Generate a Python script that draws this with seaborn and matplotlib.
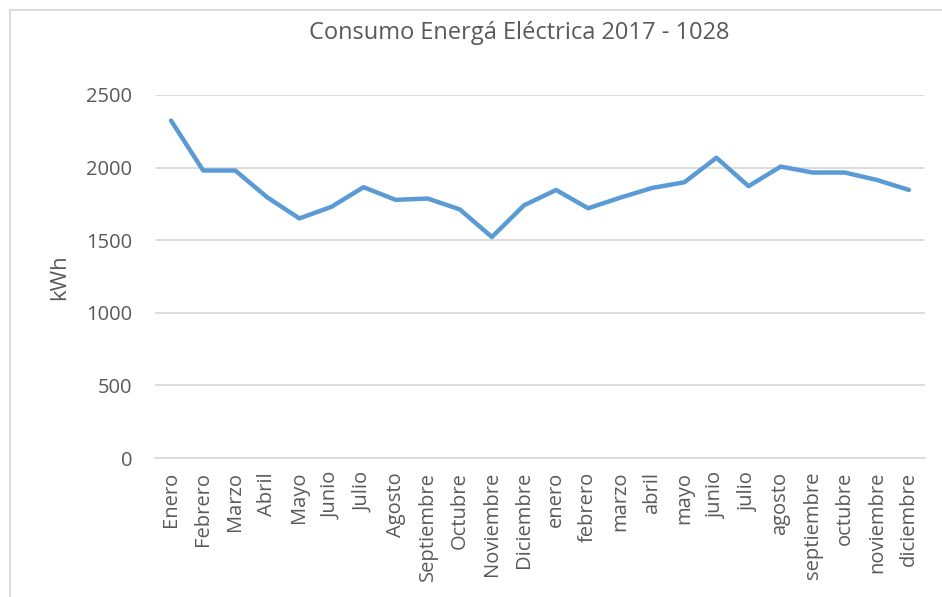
import matplotlib
matplotlib.use("Agg")
import matplotlib.pyplot as plt
import seaborn as sns
import pandas as pd
from matplotlib.lines import Line2D

sns.set_theme(style="white")
plt.rcParams["font.family"] = ["Open Sans", "DejaVu Sans"]

# monthly consumption, 2017 then 2018
months = ["Enero", "Febrero", "Marzo", "Abril", "Mayo", "Junio", "Julio",
          "Agosto", "Septiembre", "Octubre", "Noviembre", "Diciembre",
          "enero", "febrero", "marzo", "abril", "mayo", "junio", "julio",
          "agosto", "septiembre", "octubre", "noviembre", "diciembre"]
kwh = [2324, 1980, 1980, 1795, 1650, 1730, 1865, 1778, 1787, 1712, 1522, 1740,
       1846, 1720, 1793, 1860, 1899, 2068, 1872, 2007, 1966, 1966, 1915, 1846]
yticks = [0, 500, 1000, 1500, 2000, 2500]

df = pd.DataFrame({"Mes": months, "kWh": kwh})

fig = plt.figure(figsize=(9.42, 5.97), dpi=100)
ax = fig.add_axes([155 / 942, 1 - 458 / 597, 770 / 942, 363 / 597])

sns.lineplot(data=df, x="Mes", y="kWh", sort=False, color="#5B9BD5",
             linewidth=3.2, ax=ax, solid_capstyle="round", solid_joinstyle="round")

ax.set_xlim(-0.5, len(months) - 0.5)
ax.set_ylim(0, 2500)
ax.set_yticks(yticks)
ax.yaxis.grid(True, color="#D9D9D9", linewidth=1.3)
ax.set_axisbelow(True)
for s in ["top", "right", "left"]:
    ax.spines[s].set_visible(False)
ax.spines["bottom"].set_color("#D9D9D9")
ax.spines["bottom"].set_linewidth(1.3)

ax.tick_params(axis="both", length=0, labelsize=14.5, labelcolor="#595959")
ax.tick_params(axis="y", pad=16.5)
ax.tick_params(axis="x", pad=10)
plt.setp(ax.get_xticklabels(), rotation=90)

ax.set_xlabel("")
ax.set_ylabel("")
fig.text(60 / 942, 1 - 277 / 597, "kWh", rotation=90, ha="center", va="center",
         fontsize=16, color="#595959")

fig.text(519 / 942, 1 - 33 / 597, "Consumo Energá Eléctrica 2017 - 1028",
         ha="center", va="center", fontsize=17, color="#595959")

# chart area border (only the left and top edges are in frame)
fig.add_artist(Line2D([10 / 942, 10 / 942], [0, 1 - 10 / 597],
                      transform=fig.transFigure, color="#D9D9D9", linewidth=1.3))
fig.add_artist(Line2D([10 / 942, 1], [1 - 10 / 597, 1 - 10 / 597],
                      transform=fig.transFigure, color="#D9D9D9", linewidth=1.3))

fig.savefig("out.png", dpi=100)
